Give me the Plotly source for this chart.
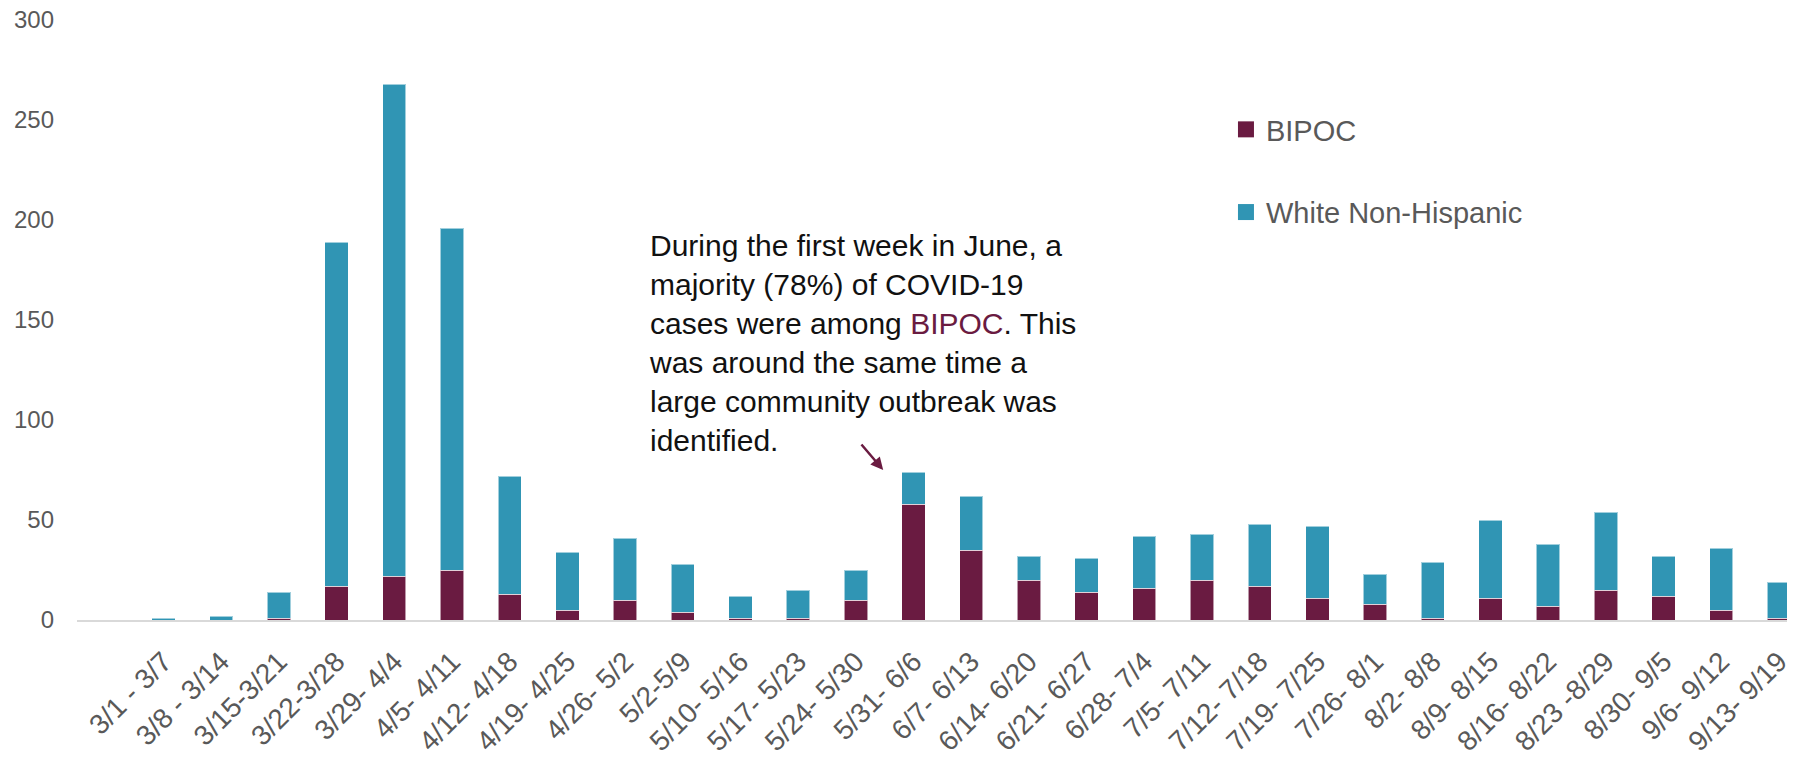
import plotly.graph_objects as go

# Weekly case counts by group
weeks = [
    "3/1 - 3/7", "3/8 - 3/14", "3/15-3/21", "3/22-3/28", "3/29- 4/4",
    "4/5- 4/11", "4/12- 4/18", "4/19- 4/25", "4/26- 5/2", "5/2-5/9",
    "5/10- 5/16", "5/17- 5/23", "5/24- 5/30", "5/31- 6/6", "6/7- 6/13",
    "6/14- 6/20", "6/21- 6/27", "6/28- 7/4", "7/5- 7/11", "7/12- 7/18",
    "7/19- 7/25", "7/26- 8/1", "8/2- 8/8", "8/9- 8/15", "8/16- 8/22",
    "8/23 -8/29", "8/30- 9/5", "9/6- 9/12", "9/13- 9/19",
]
bipoc = [0, 0, 1, 17, 22, 25, 13, 5, 10, 4,
         1, 1, 10, 58, 35, 20, 14, 16, 20, 17,
         11, 8, 1, 11, 7, 15, 12, 5, 1]
white_nh = [1, 2, 13, 172, 246, 171, 59, 29, 31, 24,
            11, 14, 15, 16, 27, 12, 17, 26, 23, 31,
            36, 15, 28, 39, 31, 39, 20, 31, 18]
y_ticks = [0, 50, 100, 150, 200, 250, 300]

MAROON = "#6A1B41"
TEAL = "#3095B4"
GRAY = "#595959"

W, H = 1793, 760
ML, MR, MT, MB = 77, 0, 20, 140
PW, PH = W - ML - MR, H - MT - MB


def px_x(x):
    return (x - ML) / PW


def px_y(y):
    return (H - MB - y) / PH


fig = go.Figure()
series = [("BIPOC", bipoc, MAROON), ("White Non-Hispanic", white_nh, TEAL)]
for name, vals, color in series:
    fig.add_trace(go.Bar(
        x=weeks, y=vals, name=name, legendgroup=name, showlegend=False,
        marker=dict(color=color, line=dict(color="rgba(255,255,255,0.55)", width=1)),
    ))
# legend keys drawn as larger squares
for name, vals, color in series:
    fig.add_trace(go.Scatter(
        x=[None], y=[None], mode="markers", name=name, legendgroup=name,
        marker=dict(symbol="square", size=16, color=color, line=dict(width=0)),
        hoverinfo="skip",
    ))

note = ("During the first week in June, a<br>"
        "majority (78%) of COVID-19<br>"
        f"cases were among <span style='color:{MAROON}'>BIPOC</span>. This<br>"
        "was around the same time a<br>"
        "large community outbreak was<br>"
        "identified.")

fig.add_annotation(
    text=note, xref="paper", yref="paper",
    x=px_x(649), y=px_y(227), xanchor="left", yanchor="top",
    align="left", showarrow=False,
    font=dict(family="Liberation Sans, Arial, sans-serif", size=30, color="#111111"),
)
# pointer to the 5/31 - 6/6 week
fig.add_annotation(
    text="", xref="paper", yref="paper",
    x=px_x(886), y=px_y(470), ax=-23, ay=-27,
    showarrow=True, arrowhead=2, arrowsize=1, arrowwidth=2.5,
    arrowcolor=MAROON,
)

fig.update_layout(
    width=W, height=H,
    margin=dict(l=ML, r=MR, t=MT, b=MB),
    paper_bgcolor="white", plot_bgcolor="white",
    barmode="stack", bargap=0.595,
    font=dict(family="Liberation Sans, Arial, sans-serif", color=GRAY),
    legend=dict(
        x=px_x(1230), y=px_y(104), xanchor="left", yanchor="top",
        traceorder="grouped", tracegroupgap=42,
        font=dict(size=29, color=GRAY), bgcolor="rgba(0,0,0,0)",
    ),
    xaxis=dict(
        range=[-1.5, 28.14], tickangle=-45, showgrid=False,
        showline=True, linecolor="#d9d9d9", linewidth=2,
        ticks="", ticklabelstandoff=12, tickfont=dict(size=28, color=GRAY),
    ),
    yaxis=dict(
        range=[0, 300], tickvals=y_ticks, showgrid=False, zeroline=False,
        showline=False, ticks="", ticklabelstandoff=22,
        tickfont=dict(size=24, color=GRAY),
    ),
)

fig.write_html("out.html")
